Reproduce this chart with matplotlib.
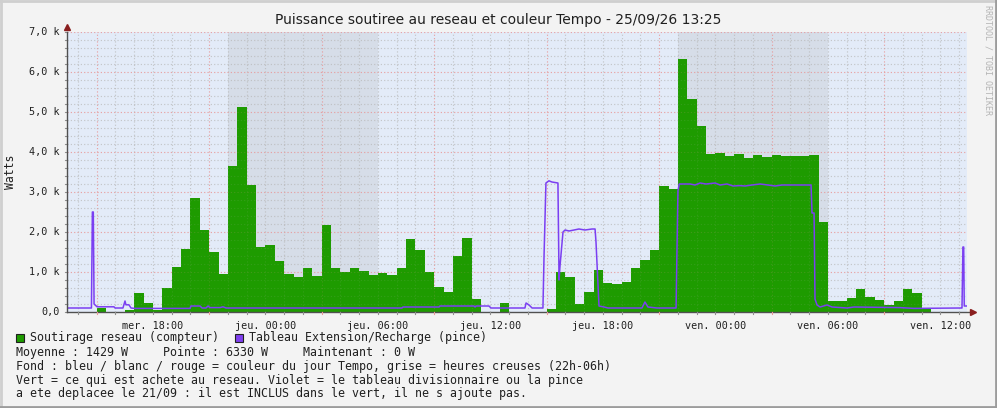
import numpy as np
import matplotlib.pyplot as plt
from matplotlib.patches import Rectangle
from matplotlib.lines import Line2D

# Time axis: hours since Wed 00:00 ; window = 48 h ending Fri 13:25
t_start = 13 + 25 / 60
t_end = t_start + 48

# Soutirage reseau (compteur), 30 min bins starting Wed 13:00
green_start = 13.0
green = [0, 0, 0, 0, 110, 0, 0, 50, 475, 225,
         60, 600, 1125, 1575, 2850, 2050, 1500, 950, 3650, 5125,
         3175, 1630, 1675, 1275, 950, 875, 1100, 900, 2175, 1100,
         1000, 1100, 1025, 925, 975, 925, 1100, 1825, 1550, 1000,
         625, 500, 1400, 1850, 325, 0, 0, 225, 0, 0,
         0, 0, 75, 1000, 875, 200, 500, 1050, 725, 700,
         750, 1100, 1300, 1550, 3150, 3075, 6325, 5325, 4650, 3950,
         3975, 3900, 3950, 3850, 3925, 3875, 3925, 3900, 3900, 3900,
         3925, 2250, 275, 275, 350, 575, 375, 300, 175, 275,
         575, 475, 100, 0, 0, 0, 0]

# Tableau Extension/Recharge (pince) : (hour, watts)
pince_t = [13.42, 14.59, 14.72, 14.77, 14.82, 14.86, 15.02, 15.92, 15.98, 16.40,
           16.51, 16.56, 16.72, 16.83, 17.04, 19.98, 20.03, 20.51, 20.62, 20.83,
           20.94, 21.04, 21.58, 21.74, 21.90, 31.28, 31.34, 33.26, 33.31, 35.12,
           35.18, 35.23, 35.92, 36.03, 37.84, 37.90, 38.06, 38.22, 38.80, 38.86,
           38.96, 39.12, 39.28, 39.60, 39.66, 39.71, 39.87, 39.98, 40.19, 40.46,
           40.72, 41.04, 41.42, 41.58, 41.63, 41.79, 42.06, 42.27, 44.08, 44.24,
           44.40, 44.88, 45.90, 46.00, 46.07, 46.65, 46.91, 47.18, 47.50, 47.98,
           48.25, 48.62, 48.94, 49.30, 49.58, 49.95, 50.38, 50.80, 51.18, 51.55,
           51.98, 52.51, 53.10, 53.15, 53.26, 53.31, 53.42, 53.58, 53.95, 54.22,
           55.02, 55.39, 57.84, 58.59, 61.10, 61.15, 61.20, 61.24, 61.27, 61.40]
pince_w = [100, 100, 100, 2500, 2500, 200, 130, 130, 100, 100,
           275, 180, 180, 100, 90, 90, 150, 150, 100, 100,
           150, 110, 110, 130, 100, 100, 125, 125, 150, 150,
           125, 150, 150, 100, 100, 225, 175, 100, 100, 1425,
           3225, 3280, 3250, 3225, 800, 1150, 2000, 2050, 2025, 2050,
           2075, 2050, 2075, 2075, 1750, 150, 125, 100, 100, 250,
           125, 100, 100, 3025, 3200, 3200, 3175, 3225, 3200, 3225,
           3175, 3200, 3150, 3160, 3150, 3175, 3200, 3175, 3150, 3175,
           3175, 3175, 3175, 2475, 2475, 325, 175, 125, 175, 125,
           100, 125, 110, 90, 100, 100, 1625, 1625, 150, 150]

offpeak = [(22, 30), (46, 54)]
tick_hours = [18, 24, 30, 36, 42, 48, 54, 60]
tick_labels = ['mer. 18:00', 'jeu. 00:00', 'jeu. 06:00', 'jeu. 12:00',
               'jeu. 18:00', 'ven. 00:00', 'ven. 06:00', 'ven. 12:00']
ytick_vals = [0, 1000, 2000, 3000, 4000, 5000, 6000, 7000]
ytick_labels = ['0,0', '1,0 k', '2,0 k', '3,0 k', '4,0 k', '5,0 k', '6,0 k', '7,0 k']

W, H = 997, 408
mono = 'DejaVu Sans Mono'
fig = plt.figure(figsize=(W / 100, H / 100), dpi=100, facecolor='#f3f3f3')

# frame of the image
fig.add_artist(Line2D([0, 1], [1 - 1 / H, 1 - 1 / H], color='#cfcfcf', lw=2))
fig.add_artist(Line2D([1 / W, 1 / W], [0, 1], color='#cfcfcf', lw=2))
fig.add_artist(Line2D([0, 1], [1 / H, 1 / H], color='#9c9c9c', lw=2))
fig.add_artist(Line2D([1 - 1 / W, 1 - 1 / W], [0, 1], color='#9c9c9c', lw=2))

ax = fig.add_axes([67 / W, (H - 312) / H, 900 / W, 280 / H])
ax.set_facecolor('#e3ebf8')
ax.set_xlim(t_start, t_end)
ax.set_ylim(0, 7000)
for s in ax.spines.values():
    s.set_visible(False)
ax.set_xticks([])
ax.set_yticks([])

for a, b in offpeak:
    ax.axvspan(a, b, color='#d6dde8', lw=0, zorder=0.5)

edges = green_start + 0.5 * np.arange(len(green) + 1)
vals = np.append(green, green[-1])
ax.fill_between(edges, 0, vals, step='post', color='#1e9b00', lw=0, zorder=1)

# grid: full strength under the data, faint over it (like rrdtool)
for z, k in ((0.8, 1.0), (2, 0.2)):
    for h in np.arange(14, 62):
        major = (h - 15) % 6 == 0
        ax.axvline(h, color='#e89a9a' if major else '#b8b8b8', lw=0.8,
                   ls=(0, (1, 2)), alpha=(0.9 if major else 0.7) * k, zorder=z)
    for v in range(200, 7001, 200):
        major = v % 1000 == 0
        ax.axhline(v, color='#e89a9a' if major else '#b8b8b8', lw=0.8,
                   ls=(0, (1, 2)), alpha=(0.9 if major else 0.7) * k, zorder=z)

ax.plot(pince_t, pince_w, color='#7b3ff2', lw=1.1, zorder=3)

# axes with arrows
ax.plot([t_start, t_start], [0, 7000], color='#505050', lw=1, clip_on=False, zorder=4)
ax.plot([t_start, t_end + 0.25], [0, 0], color='#505050', lw=1, clip_on=False, zorder=4)
ax.plot([t_start], [7130], marker='^', color='#8a1f1f', ms=5, clip_on=False, zorder=5)
ax.plot([t_end + 0.3], [0], marker='>', color='#8a1f1f', ms=5, clip_on=False, zorder=5)

# tick marks and labels
for h in np.arange(14, 62):
    major = (h - 15) % 6 == 0
    ax.plot([h, h], [0, -60], color='#e89a9a' if major else '#909090', lw=0.8,
            clip_on=False, zorder=4)
for h, lab in zip(tick_hours, tick_labels):
    ax.text(h, -360, lab, ha='center', va='center', family=mono, fontsize=7.3,
            color='#202020')
for v in range(0, 7001, 200):
    ax.plot([t_start - 0.1, t_start], [v, v], color='#909090', lw=0.8, clip_on=False)
for v, lab in zip(ytick_vals, ytick_labels):
    ax.text(t_start - 0.37, v, lab, ha='right', va='center', family=mono,
            fontsize=7.3, color='#202020')

fig.text(498 / W, 1 - 20 / H,
         'Puissance soutiree au reseau et couleur Tempo - 25/09/26 13:25',
         ha='center', va='center', fontsize=10, color='#202020')
fig.text(10 / W, 1 - 172 / H, 'Watts', rotation=90, ha='center', va='center',
         family=mono, fontsize=8.3, color='#202020')
fig.text(988 / W, 1 - 60 / H, 'RRDTOOL / TOBI OETIKER', rotation=270,
         ha='center', va='center', family=mono, fontsize=6.0, color='#b4b4b4')

# legend
fig.add_artist(Rectangle((16 / W, 1 - 342 / H), 8 / W, 8 / H, facecolor='#1e9b00',
                         edgecolor='#202020', lw=0.8))
fig.add_artist(Rectangle((235 / W, 1 - 342 / H), 8 / W, 8 / H, facecolor='#7f3fef',
                         edgecolor='#202020', lw=0.8))
fig.text(30 / W, 1 - 338 / H, 'Soutirage reseau (compteur)', family=mono,
         fontsize=8.35, va='center', color='#202020')
fig.text(249 / W, 1 - 338 / H, 'Tableau Extension/Recharge (pince)', family=mono,
         fontsize=8.35, va='center', color='#202020')
lines = ['Moyenne : 1429 W     Pointe : 6330 W     Maintenant : 0 W',
         'Fond : bleu / blanc / rouge = couleur du jour Tempo, grise = heures creuses (22h-06h)',
         'Vert = ce qui est achete au reseau. Violet = le tableau divisionnaire ou la pince',
         'a ete deplacee le 21/09 : il est INCLUS dans le vert, il ne s ajoute pas.']
for i, txt in enumerate(lines):
    fig.text(16 / W, 1 - (352.5 + 13.8 * i) / H, txt, family=mono, fontsize=8.35,
             va='center', color='#202020')

fig.savefig('out.png', dpi=100, facecolor=fig.get_facecolor())
